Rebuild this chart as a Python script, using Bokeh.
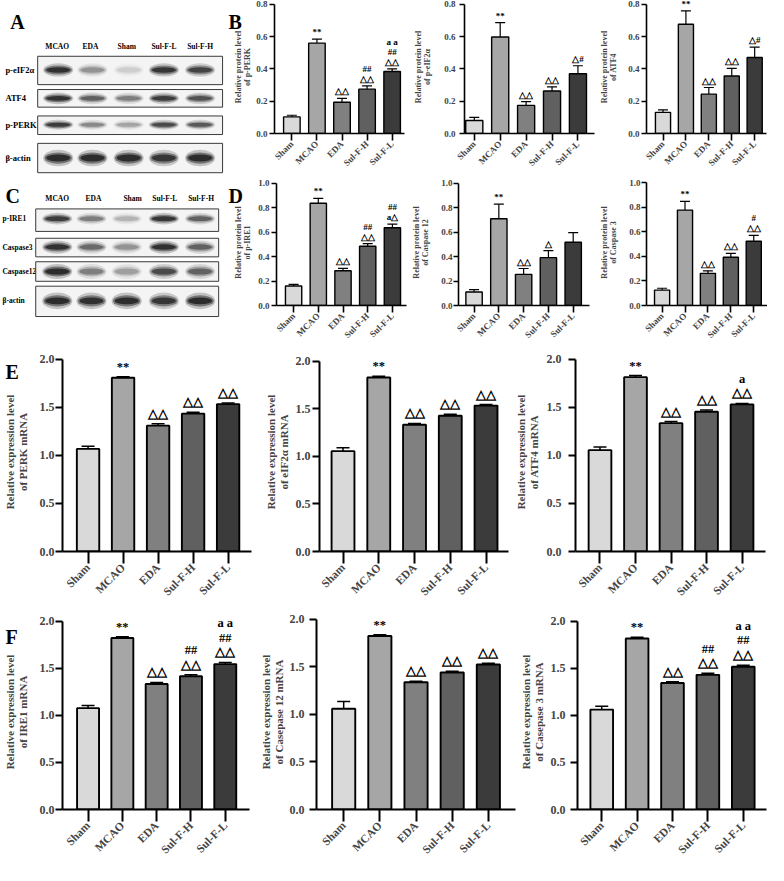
import math
from bokeh.plotting import figure
from bokeh.models import (Range1d, FixedTicker, PrintfTickFormatter, ColumnDataSource,
                          Whisker, TeeHead, Spacer)
from bokeh.layouts import row, column
from bokeh.core.properties import value
from bokeh.embed import file_html
from bokeh.resources import INLINE

# ------------------------------------------------------------------ data
groups = ["Sham", "MCAO", "EDA", "Sul-F-H", "Sul-F-L"]

# western blots (panels A and C): relative band darkness per lane
blot_lanes = ["MCAO", "EDA", "Sham", "Sul-F-L", "Sul-F-H"]
blot_rows_a = ["p-eIF2α", "ATF4", "p-PERK", "β-actin"]
blot_band_a = [
    [0.95, 0.35, 0.12, 0.90, 0.80],
    [0.95, 0.60, 0.45, 0.85, 0.70],
    [0.85, 0.40, 0.28, 0.75, 0.65],
    [1.00, 1.00, 1.00, 0.90, 1.00],
]
blot_rows_c = ["p-IRE1", "Caspase3", "Caspase12", "β-actin"]
blot_band_c = [
    [0.85, 0.45, 0.22, 0.90, 0.60],
    [0.95, 0.55, 0.35, 0.95, 0.60],
    [1.00, 0.45, 0.30, 0.75, 0.60],
    [1.00, 0.95, 1.00, 0.90, 1.00],
]
panel_letters = ["A", "B", "C", "D", "E", "F"]

# panel B (protein)
perk_protein = [0.103, 0.560, 0.194, 0.275, 0.384]
perk_protein_err = [0.010, 0.025, 0.024, 0.020, 0.016]
eif2a_protein = [0.081, 0.598, 0.174, 0.263, 0.370]
eif2a_protein_err = [0.019, 0.089, 0.024, 0.026, 0.050]
atf4_protein = [0.131, 0.677, 0.244, 0.356, 0.471]
atf4_protein_err = [0.016, 0.083, 0.041, 0.048, 0.064]
# panel D (protein)
ire1_protein = [0.160, 0.837, 0.285, 0.485, 0.637]
ire1_protein_err = [0.013, 0.040, 0.019, 0.022, 0.030]
casp12_protein = [0.110, 0.710, 0.255, 0.392, 0.518]
casp12_protein_err = [0.020, 0.120, 0.048, 0.058, 0.079]
casp3_protein = [0.125, 0.775, 0.261, 0.392, 0.522]
casp3_protein_err = [0.015, 0.071, 0.021, 0.031, 0.047]
# panel E (mRNA)
perk_mrna = [1.068, 1.808, 1.310, 1.435, 1.534]
perk_mrna_err = [0.028, 0.010, 0.019, 0.014, 0.011]
eif2a_mrna = [1.055, 1.829, 1.332, 1.428, 1.534]
eif2a_mrna_err = [0.037, 0.013, 0.014, 0.014, 0.011]
atf4_mrna = [1.055, 1.815, 1.336, 1.455, 1.531]
atf4_mrna_err = [0.034, 0.017, 0.017, 0.018, 0.010]
# panel F (mRNA)
ire1_mrna = [1.077, 1.822, 1.333, 1.415, 1.545]
ire1_mrna_err = [0.027, 0.014, 0.017, 0.017, 0.017]
casp12_mrna = [1.060, 1.824, 1.339, 1.441, 1.525]
casp12_mrna_err = [0.076, 0.013, 0.010, 0.013, 0.014]
casp3_mrna = [1.062, 1.817, 1.345, 1.431, 1.517]
casp3_mrna_err = [0.035, 0.014, 0.014, 0.017, 0.017]

# significance marks
ann_b1 = ["", "**", "△△", "##\n△△", "a a\n##\n△△"]
ann_b2 = ["", "**", "△△", "△△", "△#"]
ann_b3 = ["", "**", "△△", "△△", "△#"]
ann_d1 = ["", "**", "△△", "##\n△△", "##\na△"]
ann_d2 = ["", "**", "△△", "△", ""]
ann_d3 = ["", "**", "△△", "△△", "#\n△△"]
ann_e1 = ["", "**", "△△", "△△", "△△"]
ann_e2 = ["", "**", "△△", "△△", "△△"]
ann_e3 = ["", "**", "△△", "△△", "a\n△△"]
ann_f1 = ["", "**", "△△", "##\n△△", "a a\n##\n△△"]
ann_f2 = ["", "**", "△△", "△△", "△△"]
ann_f3 = ["", "**", "△△", "##\n△△", "a a\n##\n△△"]

ticks_b = [0.0, 0.2, 0.4, 0.6, 0.8]
ticks_d = [0.0, 0.2, 0.4, 0.6, 0.8, 1.0]
ticks_ef = [0.0, 0.5, 1.0, 1.5, 2.0]

# ------------------------------------------------------------------ style
S = 0.978
FONT = "Liberation Serif"
bar_colors = ["#d9d9d9", "#a6a6a6", "#808080", "#606060", "#3b3b3b"]


def X(v):
    return int(round(v * S))


SMALL = dict(bw=0.66, lw=1.4, elw=1.2, cap=10, axw=1.6, ytick=5, xtick=7,
             tick_font="9px", xlab_font="9px", ylab_font="8px", ann_font="9px",
             ann_gap=2, lh=1.0)
BIG = dict(bw=0.64, lw=1.9, elw=1.5, cap=13, axw=2.0, ytick=7, xtick=12,
           tick_font="12px", xlab_font="11.5px", ylab_font="11px", ann_font="12.5px",
           ann_gap=3, lh=1.05)


def chart(box, ax, ax_end, c_first, c_last, y0, yt, ticks, vals, errs, ann,
          ylabel, st, ts, ls):
    L, T, R, B = box
    W = X(R) - X(L)
    H = X(B) - X(T)
    d = (c_last - c_first) / 4.0
    xs = (ax - c_first) / d
    xe = (R - c_first) / d
    ymax = ticks[-1]
    k = ymax / (y0 - yt)
    ye = (y0 - T) * k
    p = figure(width=W, height=H, x_range=Range1d(xs, xe), y_range=Range1d(0, ye),
               toolbar_location=None, output_backend="svg",
               min_border_left=X(ax) - X(L), min_border_right=0, min_border_top=0,
               min_border_bottom=X(B) - X(y0), outline_line_color=None,
               background_fill_color=None, border_fill_color=None)
    p.grid.visible = False
    idx = list(range(len(groups)))
    upper = [v + e for v, e in zip(vals, errs)]
    src = ColumnDataSource(dict(x=idx, top=vals, upper=upper, color=bar_colors, ann=ann))
    p.vbar(x="x", top="top", width=st["bw"], fill_color="color", line_color="black",
           line_width=st["lw"], source=src)
    wh = Whisker(source=src, base="x", lower="top", upper="upper", dimension="height",
                 line_color="black", line_width=st["elw"],
                 upper_head=TeeHead(size=st["cap"], line_width=st["elw"], line_color="black"),
                 lower_head=None)
    p.add_layout(wh)
    p.text(x="x", y="upper", text="ann", source=src, text_align="center",
           text_baseline="bottom", y_offset=-st["ann_gap"],
           text_font=value(FONT), text_font_style="bold",
           text_font_size=value(st["ann_font"]), text_line_height=st["lh"],
           text_color="black")

    ya = p.yaxis[0]
    ya.ticker = FixedTicker(ticks=ticks)
    ya.formatter = PrintfTickFormatter(format="%.1f")
    ya.bounds = (0, ymax)
    ya.axis_line_width = st["axw"]
    ya.major_tick_line_width = st["axw"]
    ya.major_tick_in = 0
    ya.major_tick_out = st["ytick"]
    ya.minor_tick_line_color = None
    ya.major_label_text_font = FONT
    ya.major_label_text_font_style = "bold"
    ya.major_label_text_font_size = st["tick_font"]
    ya.major_label_standoff = ts
    ya.axis_label = ylabel
    ya.axis_label_text_font = FONT
    ya.axis_label_text_font_style = "bold"
    ya.axis_label_text_font_size = st["ylab_font"]
    ya.axis_label_text_line_height = st["lh"]
    ya.axis_label_standoff = ls

    xa = p.xaxis[0]
    xa.ticker = FixedTicker(ticks=idx)
    xa.major_label_overrides = {i: g for i, g in enumerate(groups)}
    xa.major_label_orientation = math.pi / 4
    xa.bounds = (xs, (min(ax_end, R) - c_first) / d)
    xa.axis_line_width = st["axw"]
    xa.major_tick_line_width = st["axw"]
    xa.major_tick_in = 0
    xa.major_tick_out = st["xtick"]
    xa.minor_tick_line_color = None
    xa.major_label_text_font = FONT
    xa.major_label_text_font_style = "bold"
    xa.major_label_text_font_size = st["xlab_font"]
    xa.major_label_standoff = 2
    return p


# ------------------------------------------------------------------ background: blots + letters
def blot_panel(p, rows, bands, head_y, head_x, lane_x, label_x, boxes, band_y, band_h,
               box_x, label_font):
    p.text(x=head_x, y=[head_y] * len(blot_lanes), text=blot_lanes,
           text_font=value(FONT), text_font_style="bold", text_font_size=value("7.5px"),
           text_align="center", text_baseline="middle")
    p.text(x=[label_x] * len(rows), y=band_y, text=rows,
           text_font=value(FONT), text_font_style="bold", text_font_size=value(label_font),
           text_align="left", text_baseline="middle")
    p.quad(left=[box_x[0]] * len(boxes), right=[box_x[1]] * len(boxes),
           top=[b[0] for b in boxes], bottom=[b[1] for b in boxes],
           fill_color="#f4f4f4", line_color="#3a3a3a", line_width=1)
    for scale_w, scale_h, alpha in [(1.10, 1.7, 0.22), (1.0, 1.15, 0.45), (0.88, 0.7, 0.75)]:
        xs, ys, ws, hs, als = [], [], [], [], []
        for r, rvals in enumerate(bands):
            for j, inten in enumerate(rvals):
                xs.append(lane_x[j])
                ys.append(band_y[r])
                ws.append(28 * scale_w)
                hs.append(band_h[r] * scale_h)
                als.append(alpha * inten)
        p.ellipse(x=xs, y=ys, width=ws, height=hs, fill_color="#141414",
                  fill_alpha=als, line_color=None)


bg = figure(width=X(784), height=X(881), x_range=Range1d(0, 784), y_range=Range1d(881, 0),
            toolbar_location=None, output_backend="svg", min_border=0,
            x_axis_location=None, y_axis_location=None, outline_line_color=None)
bg.grid.visible = False
blot_panel(bg, blot_rows_a, blot_band_a, 47, [58, 92, 129, 167, 204],
           [59, 94, 131, 167, 204], 5,
           [(57, 86), (91, 109), (118, 137), (146, 176)],
           [71, 100, 127, 161], [8, 7, 6, 10], (38, 227), "8.5px")
blot_panel(bg, blot_rows_c, blot_band_c, 202, [58, 95, 135, 168, 205],
           [58, 93, 129, 167, 204], 2,
           [(213, 236), (243, 262), (267, 287), (292, 323)],
           [223, 252, 277, 307], [7, 8, 9, 10], (36, 223), "7.5px")
bg.text(x=[10, 233, 5, 233, 5, 5], y=[22, 22, 200, 200, 380, 651], text=panel_letters,
        text_font=value(FONT), text_font_style="bold", text_font_size=value("20px"),
        text_align="left", text_baseline="middle")

# ------------------------------------------------------------------ charts
b1 = chart((236, 0, 418, 183), 278, 413, 296, 400, 136, 4, ticks_b, perk_protein, perk_protein_err,
           ann_b1, "Relative protein level\nof p-PERK", SMALL, 2, 1)
b2 = chart((418, 0, 610, 183), 474, 607, 484, 590, 136, 4, ticks_b, eif2a_protein, eif2a_protein_err,
           ann_b2, "Relative protein level\nof p-eIF2α", SMALL, 4, 9)
b3 = chart((610, 0, 784, 183), 652, 783, 670, 770, 136, 4, ticks_b, atf4_protein, atf4_protein_err,
           ann_b3, "Relative protein level\nof ATF4", SMALL, 2, 7)
d1 = chart((236, 183, 418, 360), 278, 415, 296, 400, 312, 187, ticks_d, ire1_protein, ire1_protein_err,
           ann_d1, "Relative protein level\nof p-IRE1", SMALL, 2, 3)
d2 = chart((418, 183, 610, 360), 467, 602, 483, 585, 312, 187, ticks_d, casp12_protein, casp12_protein_err,
           ann_d2, "Relative protein level\nof Caspase 12", SMALL, 1, 8)
d3 = chart((610, 183, 784, 360), 652, 784, 669, 769, 313, 186, ticks_d, casp3_protein, casp3_protein_err,
           ann_d3, "Relative protein level\nof Caspase 3", SMALL, 1, 8)

e1 = chart((0, 360, 262, 628), 57, 257, 84, 232, 563, 367, ticks_ef, perk_mrna, perk_mrna_err,
           ann_e1, "Relative expression level\nof PERK mRNA", BIG, 1, 8)
e2 = chart((262, 360, 522, 628), 326, 519, 350, 496, 564, 369, ticks_ef, eif2a_mrna, eif2a_mrna_err,
           ann_e2, "Relative expression level\nof eIF2α mRNA", BIG, 2, 3)
e3 = chart((522, 360, 784, 628), 588, 782, 613, 758, 563, 367, ticks_ef, atf4_mrna, atf4_mrna_err,
           ann_e3, "Relative expression level\nof ATF4 mRNA", BIG, 7, 4)
f1 = chart((0, 628, 262, 881), 57, 255, 84, 229, 830, 635, ticks_ef, ire1_mrna, ire1_mrna_err,
           ann_f1, "Relative expression level\nof IRE1 mRNA", BIG, 1, 8)
f2 = chart((262, 628, 528, 881), 322, 527, 350, 499, 830, 633, ticks_ef, casp12_mrna, casp12_mrna_err,
           ann_f2, "Relative expression level\nof Casepase 12 mRNA", BIG, 5, 2)
f3 = chart((528, 628, 784, 881), 588, 783, 613, 759, 828, 635, ticks_ef, casp3_mrna, casp3_mrna_err,
           ann_f3, "Relative expression level\nof Casepase 3 mRNA", BIG, 5, 3)

charts = column(
    row(Spacer(width=X(236), height=X(360)), column(row(b1, b2, b3), row(d1, d2, d3))),
    row(e1, e2, e3),
    row(f1, f2, f3),
    styles={"margin-top": "-%dpx" % X(881)},
)

layout = column(bg, charts)

open("out.html", "w").write(file_html(layout, INLINE))
